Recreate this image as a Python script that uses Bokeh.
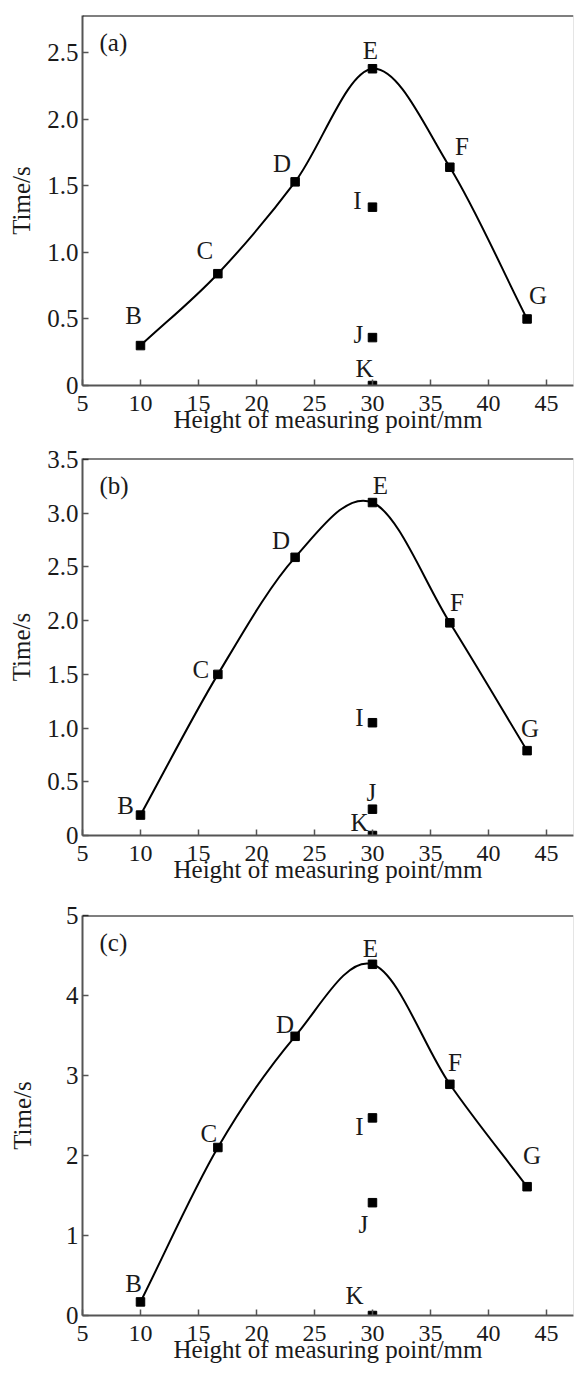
import numpy as np
from bokeh.plotting import figure
from bokeh.models import Range1d, FixedTicker, Span, Label, LabelSet, ColumnDataSource
from bokeh.layouts import column
from bokeh.core.properties import value
from bokeh.embed import file_html
from bokeh.resources import INLINE

# ---------------- data ----------------
x_curve = [10, 16.67, 23.33, 30, 36.67, 43.33]
curve_names = ["B", "C", "D", "E", "F", "G"]
x_extra = [30, 30, 30]
extra_names = ["I", "J", "K"]

a_curve = [0.30, 0.84, 1.53, 2.38, 1.64, 0.50]
a_extra = [1.34, 0.36, 0.0]
b_curve = [0.19, 1.50, 2.59, 3.10, 1.98, 0.79]
b_extra = [1.05, 0.245, 0.0]
c_curve = [0.17, 2.10, 3.49, 4.39, 2.89, 1.61]
c_extra = [2.47, 1.41, 0.0]

x_ticks = [5, 10, 15, 20, 25, 30, 35, 40, 45]
a_yticks = [0, 0.5, 1.0, 1.5, 2.0, 2.5]
a_ylabels = ["0", "0.5", "1.0", "1.5", "2.0", "2.5"]
b_yticks = [0, 0.5, 1.0, 1.5, 2.0, 2.5, 3.0, 3.5]
b_ylabels = ["0", "0.5", "1.0", "1.5", "2.0", "2.5", "3.0", "3.5"]
c_yticks = [0, 1, 2, 3, 4, 5]
c_ylabels = ["0", "1", "2", "3", "4", "5"]

# ---------------- label placement (pixels: right, up) ----------------
a_off = {"B": (-7, 30), "C": (-13, 23), "D": (-13, 18), "E": (-2, 18), "F": (12, 21),
         "G": (11, 23), "I": (-15, 7), "J": (-14, 3), "K": (-8, 17)}
b_off = {"B": (-15, 10), "C": (-17, 5), "D": (-14, 17), "E": (8, 17), "F": (7, 20),
         "G": (3, 22), "I": (-13, 5), "J": (-1, 17), "K": (-13, 13)}
c_off = {"B": (-7, 18), "C": (-9, 14), "D": (-10, 12), "E": (-2, 16), "F": (5, 22),
         "G": (5, 31), "I": (-13, -9), "J": (-9, -22), "K": (-18, 20)}

FONT = "Liberation Serif"
AXIS_COL = "#555555"
TEXT_COL = "#1a1a1a"


def bezier_parts(xs, ys):
    P = np.column_stack([np.asarray(xs, float), np.asarray(ys, float)])
    T = np.zeros_like(P)
    T[1:-1] = (P[2:] - P[:-2]) / 2.0
    T[0] = P[1] - P[0]
    T[-1] = P[-1] - P[-2]
    c0 = P[:-1] + T[:-1] / 3.0
    c1 = P[1:] - T[1:] / 3.0
    return dict(x0=P[:-1, 0], y0=P[:-1, 1], x1=P[1:, 0], y1=P[1:, 1],
                cx0=c0[:, 0], cy0=c0[:, 1], cx1=c1[:, 0], cy1=c1[:, 1])


def make_panel(tag, yc, ye, y_end, yticks, ylabels, off, height, top, bottom, ylab_standoff):
    p = figure(width=574, height=height, x_range=Range1d(5, 47.33), y_range=Range1d(0, y_end),
               output_backend="svg", toolbar_location=None,
               min_border_left=82, min_border_right=1, min_border_top=top, min_border_bottom=bottom)
    p.grid.visible = False
    p.outline_line_color = None
    p.background_fill_color = "white"
    p.border_fill_color = "white"

    for ax in (p.xaxis[0], p.yaxis[0]):
        ax.axis_line_color = AXIS_COL
        ax.axis_line_width = 2
        ax.major_tick_line_color = AXIS_COL
        ax.major_tick_line_width = 1.5
        ax.major_tick_in = 6
        ax.major_tick_out = 0
        ax.minor_tick_line_color = None
        ax.major_label_text_font = FONT
        ax.major_label_text_font_size = "25px"
        ax.major_label_text_color = TEXT_COL
        ax.axis_label_text_font = FONT
        ax.axis_label_text_font_size = "25px"
        ax.axis_label_text_font_style = "normal"
        ax.axis_label_text_color = TEXT_COL

    p.xaxis.ticker = FixedTicker(ticks=x_ticks)
    p.xaxis.major_label_text_font_size = "24px"
    p.xaxis.major_label_standoff = 10
    p.xaxis.axis_label = "Height of measuring point/mm"
    p.xaxis.axis_label_standoff = -8

    p.yaxis.ticker = FixedTicker(ticks=yticks)
    p.yaxis.major_label_overrides = {t: l for t, l in zip(yticks, ylabels)}
    p.yaxis.major_label_standoff = 4
    p.yaxis.axis_label = "Time/s"
    p.yaxis.axis_label_standoff = ylab_standoff

    p.add_layout(Span(location=y_end, dimension="width", line_color="black", line_width=2))
    p.add_layout(Span(location=47.33, dimension="height", line_color="#cccccc", line_width=1))

    bz = bezier_parts(x_curve, yc)
    p.bezier(source=ColumnDataSource(bz), x0="x0", y0="y0", x1="x1", y1="y1",
             cx0="cx0", cy0="cy0", cx1="cx1", cy1="cy1", line_color="black", line_width=2)

    xs = x_curve + x_extra
    ys = list(yc) + list(ye)
    names = curve_names + extra_names
    src = ColumnDataSource(dict(x=xs, y=ys, name=names,
                                dx=[off[n][0] for n in names], dy=[off[n][1] for n in names]))
    p.scatter("x", "y", source=src, marker="square", size=8.5, color="black")
    p.add_layout(LabelSet(x="x", y="y", text="name", x_offset="dx", y_offset="dy", source=src,
                          text_font=value(FONT), text_font_size=value("25px"),
                          text_color=TEXT_COL, text_align="center", text_baseline="middle"))

    p.add_layout(Label(x=5, y=y_end, x_offset=17, y_offset=-27, text=tag,
                       text_font=FONT, text_font_size="25px", text_color=TEXT_COL,
                       text_align="left", text_baseline="middle"))
    return p


pa = make_panel("(a)", a_curve, a_extra, 2.78, a_yticks, a_ylabels, a_off, 446, 15, 61, 9)
pb = make_panel("(b)", b_curve, b_extra, 3.51, b_yticks, b_ylabels, b_off, 450, 12, 61, 9)
pc = make_panel("(c)", c_curve, c_extra, 5.0, c_yticks, c_ylabels, c_off, 480, 19, 61, 27)

layout = column(pa, pb, pc, spacing=0)
open("out.html", "w").write(file_html(layout, INLINE))
